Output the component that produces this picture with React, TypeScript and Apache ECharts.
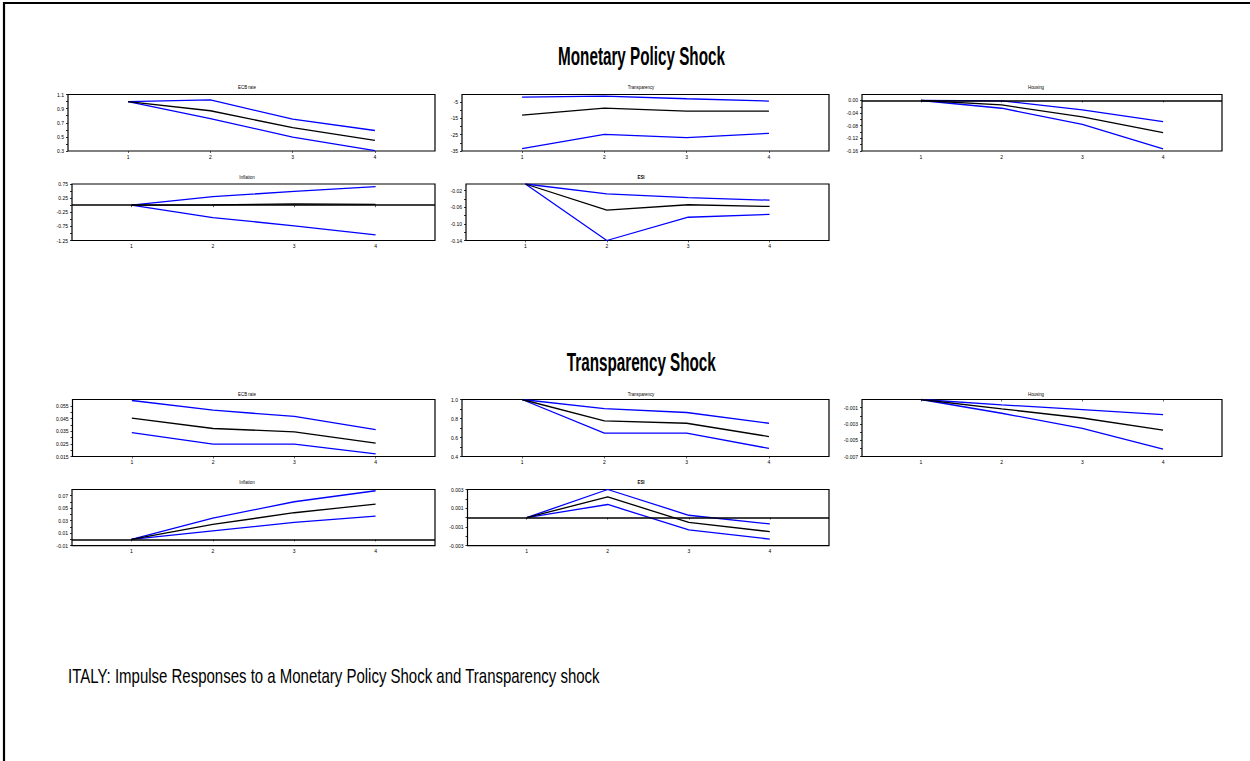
import React, { useEffect, useRef } from "react";
import * as echarts from "echarts";

// ---------- data ----------
const periods = [1, 2, 3, 4];

// Monetary Policy Shock
const mpEcbMid = [1.0, 0.87, 0.63, 0.45];
const mpEcbUp = [1.0, 1.025, 0.75, 0.59];
const mpEcbLo = [1.0, 0.76, 0.495, 0.305];
const mpTrMid = [-13.0, -8.8, -10.6, -10.6];
const mpTrUp = [-2.0, -1.4, -3.0, -4.4];
const mpTrLo = [-33.6, -24.8, -26.8, -24.2];
const mpHoMid = [0, -0.014, -0.052, -0.102];
const mpHoUp = [0, -0.001, -0.03, -0.067];
const mpHoLo = [0, -0.0245, -0.076, -0.153];
const mpInMid = [0, 0.01, 0.05, 0.03];
const mpInUp = [0, 0.3, 0.49, 0.66];
const mpInLo = [0, -0.44, -0.73, -1.05];
const mpEsMid = [-0.004, -0.067, -0.054, -0.058];
const mpEsUp = [-0.004, -0.028, -0.037, -0.043];
const mpEsLo = [-0.004, -0.14, -0.084, -0.077];

// Transparency Shock
const tsEcbMid = [0.0453, 0.0371, 0.0345, 0.0255];
const tsEcbUp = [0.0592, 0.0516, 0.0466, 0.0363];
const tsEcbLo = [0.0339, 0.0247, 0.0247, 0.0171];
const tsTrMid = [1.0, 0.775, 0.75, 0.61];
const tsTrUp = [1.0, 0.905, 0.863, 0.75];
const tsTrLo = [1.0, 0.646, 0.646, 0.485];
const tsHoMid = [0, -0.00115, -0.00227, -0.00375];
const tsHoUp = [0, -0.00066, -0.00124, -0.00186];
const tsHoLo = [0, -0.00169, -0.00355, -0.0061];
const tsInMid = [0, 0.024, 0.0428, 0.0567];
const tsInUp = [0, 0.0343, 0.0604, 0.078];
const tsInLo = [0, 0.0137, 0.0273, 0.0375];
const tsEsMid = [0, 0.0022, -0.0005, -0.0015];
const tsEsUp = [0, 0.003, 0.00025, -0.00068];
const tsEsLo = [0, 0.0014, -0.0013, -0.0023];

// tick labels
const mpEcbLabels = [0.3, 0.5, 0.7, 0.9, 1.1];
const mpEcbTicks = [0.3, 0.4, 0.5, 0.6, 0.7, 0.8, 0.9, 1.0, 1.1];
const mpTrLabels = [-35, -25, -15, -5];
const mpTrTicks = [-35, -30, -25, -20, -15, -10, -5];
const mpHoLabels = [-0.16, -0.12, -0.08, -0.04, 0.0];
const mpHoTicks = [-0.16, -0.14, -0.12, -0.1, -0.08, -0.06, -0.04, -0.02, 0.0];
const mpInLabels = [-1.25, -0.75, -0.25, 0.25, 0.75];
const mpInTicks = [-1.25, -1.0, -0.75, -0.5, -0.25, 0, 0.25, 0.5, 0.75];
const mpEsLabels = [-0.14, -0.1, -0.06, -0.02];
const mpEsTicks = [-0.14, -0.12, -0.1, -0.08, -0.06, -0.04, -0.02];
const tsEcbLabels = [0.015, 0.025, 0.035, 0.045, 0.055];
const tsEcbTicks = [0.015, 0.02, 0.025, 0.03, 0.035, 0.04, 0.045, 0.05, 0.055];
const tsTrLabels = [0.4, 0.6, 0.8, 1.0];
const tsTrTicks = [0.4, 0.5, 0.6, 0.7, 0.8, 0.9, 1.0];
const tsHoLabels = [-0.007, -0.005, -0.003, -0.001];
const tsHoTicks = [-0.007, -0.006, -0.005, -0.004, -0.003, -0.002, -0.001];
const tsInLabels = [-0.01, 0.01, 0.03, 0.05, 0.07];
const tsInTicks = [-0.01, 0, 0.01, 0.02, 0.03, 0.04, 0.05, 0.06, 0.07];
const tsEsLabels = [-0.003, -0.001, 0.001, 0.003];
const tsEsTicks = [-0.003, -0.002, -0.001, 0, 0.001, 0.002, 0.003];

const mainTitles = ["Monetary Policy Shock", "Transparency Shock"];
const footnote = "ITALY: Impulse Responses to a Monetary Policy Shock and Transparency shock";

// ---------- layout ----------
type Panel = {
  title: string;
  mid: number[];
  up: number[];
  lo: number[];
  yMin: number;
  yMax: number;
  labels: number[];
  ticks: number[];
  dec: number;
  zero: boolean;
  left: number;
  right: number;
  top: number;
  bottom: number;
  tx: number;
  ty: number;
  bold?: boolean;
};

const C1R = 435, C2R = 829, C3R = 1222;
const TX1 = 247, TX2 = 641, TX3 = 1036;

const panels: Panel[] = [
  { title: "ECB rate", mid: mpEcbMid, up: mpEcbUp, lo: mpEcbLo, yMin: 0.3, yMax: 1.1, labels: mpEcbLabels, ticks: mpEcbTicks, dec: 1, zero: false, left: 68, right: C1R, top: 94.5, bottom: 151, tx: TX1, ty: 87.5 },
  { title: "Transparency", mid: mpTrMid, up: mpTrUp, lo: mpTrLo, yMin: -35, yMax: -0.4, labels: mpTrLabels, ticks: mpTrTicks, dec: 0, zero: false, left: 462, right: C2R, top: 94.5, bottom: 151, tx: TX2, ty: 87.5 },
  { title: "Housing", mid: mpHoMid, up: mpHoUp, lo: mpHoLo, yMin: -0.16, yMax: 0.019, labels: mpHoLabels, ticks: mpHoTicks, dec: 2, zero: true, left: 862, right: C3R, top: 94.5, bottom: 151, tx: TX3, ty: 87.5 },
  { title: "Inflation", mid: mpInMid, up: mpInUp, lo: mpInLo, yMin: -1.25, yMax: 0.75, labels: mpInLabels, ticks: mpInTicks, dec: 2, zero: true, left: 72, right: C1R, top: 184, bottom: 240.5, tx: TX1, ty: 177 },
  { title: "ESI", mid: mpEsMid, up: mpEsUp, lo: mpEsLo, yMin: -0.14, yMax: -0.004, labels: mpEsLabels, ticks: mpEsTicks, dec: 2, zero: false, left: 466, right: C2R, top: 184, bottom: 240.5, tx: TX2, ty: 177, bold: true },
  { title: "ECB rate", mid: tsEcbMid, up: tsEcbUp, lo: tsEcbLo, yMin: 0.015, yMax: 0.06, labels: tsEcbLabels, ticks: tsEcbTicks, dec: 3, zero: false, left: 72.5, right: C1R, top: 399.5, bottom: 456.5, tx: TX1, ty: 394.5 },
  { title: "Transparency", mid: tsTrMid, up: tsTrUp, lo: tsTrLo, yMin: 0.4, yMax: 1.0, labels: tsTrLabels, ticks: tsTrTicks, dec: 1, zero: false, left: 462, right: C2R, top: 399.5, bottom: 456.5, tx: TX2, ty: 394.5 },
  { title: "Housing", mid: tsHoMid, up: tsHoUp, lo: tsHoLo, yMin: -0.007, yMax: 0, labels: tsHoLabels, ticks: tsHoTicks, dec: 3, zero: false, left: 862, right: C3R, top: 399.5, bottom: 456.5, tx: TX3, ty: 394.5 },
  { title: "Inflation", mid: tsInMid, up: tsInUp, lo: tsInLo, yMin: -0.01, yMax: 0.08, labels: tsInLabels, ticks: tsInTicks, dec: 2, zero: true, left: 72, right: C1R, top: 489.5, bottom: 545.7, tx: TX1, ty: 482.5 },
  { title: "ESI", mid: tsEsMid, up: tsEsUp, lo: tsEsLo, yMin: -0.003, yMax: 0.003, labels: tsEsLabels, ticks: tsEsTicks, dec: 3, zero: true, left: 467.5, right: C2R, top: 489.5, bottom: 545.7, tx: TX2, ty: 482.5, bold: true },
];

const FONT = "'Liberation Sans', Arial, sans-serif";
const BLUE = "#0000ff";

function buildOption() {
  const grid: any[] = [];
  const xAxis: any[] = [];
  const yAxis: any[] = [];
  const series: any[] = [];
  const graphic: any[] = [];

  panels.forEach((p, i) => {
    grid.push({
      left: p.left,
      top: p.top,
      width: p.right - p.left,
      height: p.bottom - p.top,
      show: true,
      borderColor: "#000",
      borderWidth: 1.2,
      backgroundColor: "transparent",
      containLabel: false,
    });
    xAxis.push({
      type: "value",
      gridIndex: i,
      min: 0.27,
      max: 4.73,
      splitLine: { show: false },
      axisLine: { show: false },
      axisTick: { show: true, customValues: periods, length: 2, lineStyle: { color: "#000", width: 0.6 } },
      axisLabel: { customValues: periods, fontSize: 5, color: "#000", margin: 3, fontFamily: FONT, formatter: (v: number) => String(Math.round(v)) },
    });
    yAxis.push({
      type: "value",
      gridIndex: i,
      min: p.yMin,
      max: p.yMax,
      splitLine: { show: false },
      axisLine: { show: false },
      axisTick: { show: true, customValues: p.ticks, length: 2, lineStyle: { color: "#000", width: 0.8 } },
      axisLabel: {
        customValues: p.labels,
        fontSize: 5,
        color: "#000",
        margin: 4,
        fontFamily: FONT,
        formatter: (v: number) => {
          const s = v.toFixed(p.dec);
          return s === "-0.00" ? "0.00" : s;
        },
      },
    });
    const mk = (arr: number[]) => periods.map((x, k) => [x, arr[k]]);
    series.push({
      type: "line",
      xAxisIndex: i,
      yAxisIndex: i,
      data: mk(p.up),
      symbol: "none",
      silent: true,
      lineStyle: { color: BLUE, width: 1.3 },
      markLine: p.zero
        ? {
            silent: true,
            symbol: ["none", "none"],
            label: { show: false },
            lineStyle: { color: "#000", width: 1.5, type: "solid" },
            data: [{ yAxis: 0 }],
          }
        : undefined,
    });
    series.push({
      type: "line",
      xAxisIndex: i,
      yAxisIndex: i,
      data: mk(p.lo),
      symbol: "none",
      silent: true,
      lineStyle: { color: BLUE, width: 1.3 },
    });
    series.push({
      type: "line",
      xAxisIndex: i,
      yAxisIndex: i,
      data: mk(p.mid),
      symbol: "none",
      silent: true,
      lineStyle: { color: "#000", width: 1.3 },
    });
    graphic.push({
      type: "text",
      x: p.tx,
      y: p.ty,
      scaleX: 0.88,
      silent: true,
      style: {
        text: p.title,
        fontSize: 5,
        fontWeight: p.bold ? "bold" : "normal",
        fontFamily: FONT,
        fill: "#000",
        textAlign: "center",
        textVerticalAlign: "middle",
      },
    });
  });

  graphic.push({
    type: "text",
    x: 641.5,
    y: 56.3,
    scaleX: 0.61,
    silent: true,
    style: { text: mainTitles[0], fontSize: 25, fontWeight: "bold", fontFamily: FONT, fill: "#000", textAlign: "center", textVerticalAlign: "middle" },
  });
  graphic.push({
    type: "text",
    x: 641.3,
    y: 362,
    scaleX: 0.61,
    silent: true,
    style: { text: mainTitles[1], fontSize: 25, fontWeight: "bold", fontFamily: FONT, fill: "#000", textAlign: "center", textVerticalAlign: "middle" },
  });
  graphic.push({
    type: "text",
    x: 68,
    y: 676,
    scaleX: 0.75,
    silent: true,
    style: { text: footnote, fontSize: 20, fontFamily: FONT, fill: "#000", textAlign: "left", textVerticalAlign: "middle" },
  });
  graphic.push({
    type: "polyline",
    silent: true,
    shape: { points: [[4, 761], [4, 3], [1250, 3]] },
    style: { stroke: "#000", lineWidth: 2.2, fill: null },
  });

  return {
    animation: false,
    backgroundColor: "#fff",
    grid,
    xAxis,
    yAxis,
    series,
    graphic,
  };
}

export default function App() {
  const ref = useRef<HTMLDivElement>(null);
  useEffect(() => {
    if (!ref.current) return;
    const chart = echarts.init(ref.current, null, { renderer: "svg" });
    chart.setOption(buildOption() as any);
    return () => chart.dispose();
  }, []);
  return (
    <div
      ref={ref}
      style={{ position: "absolute", left: 0, top: 0, width: 1250, height: 761, background: "#fff" }}
    />
  );
}
